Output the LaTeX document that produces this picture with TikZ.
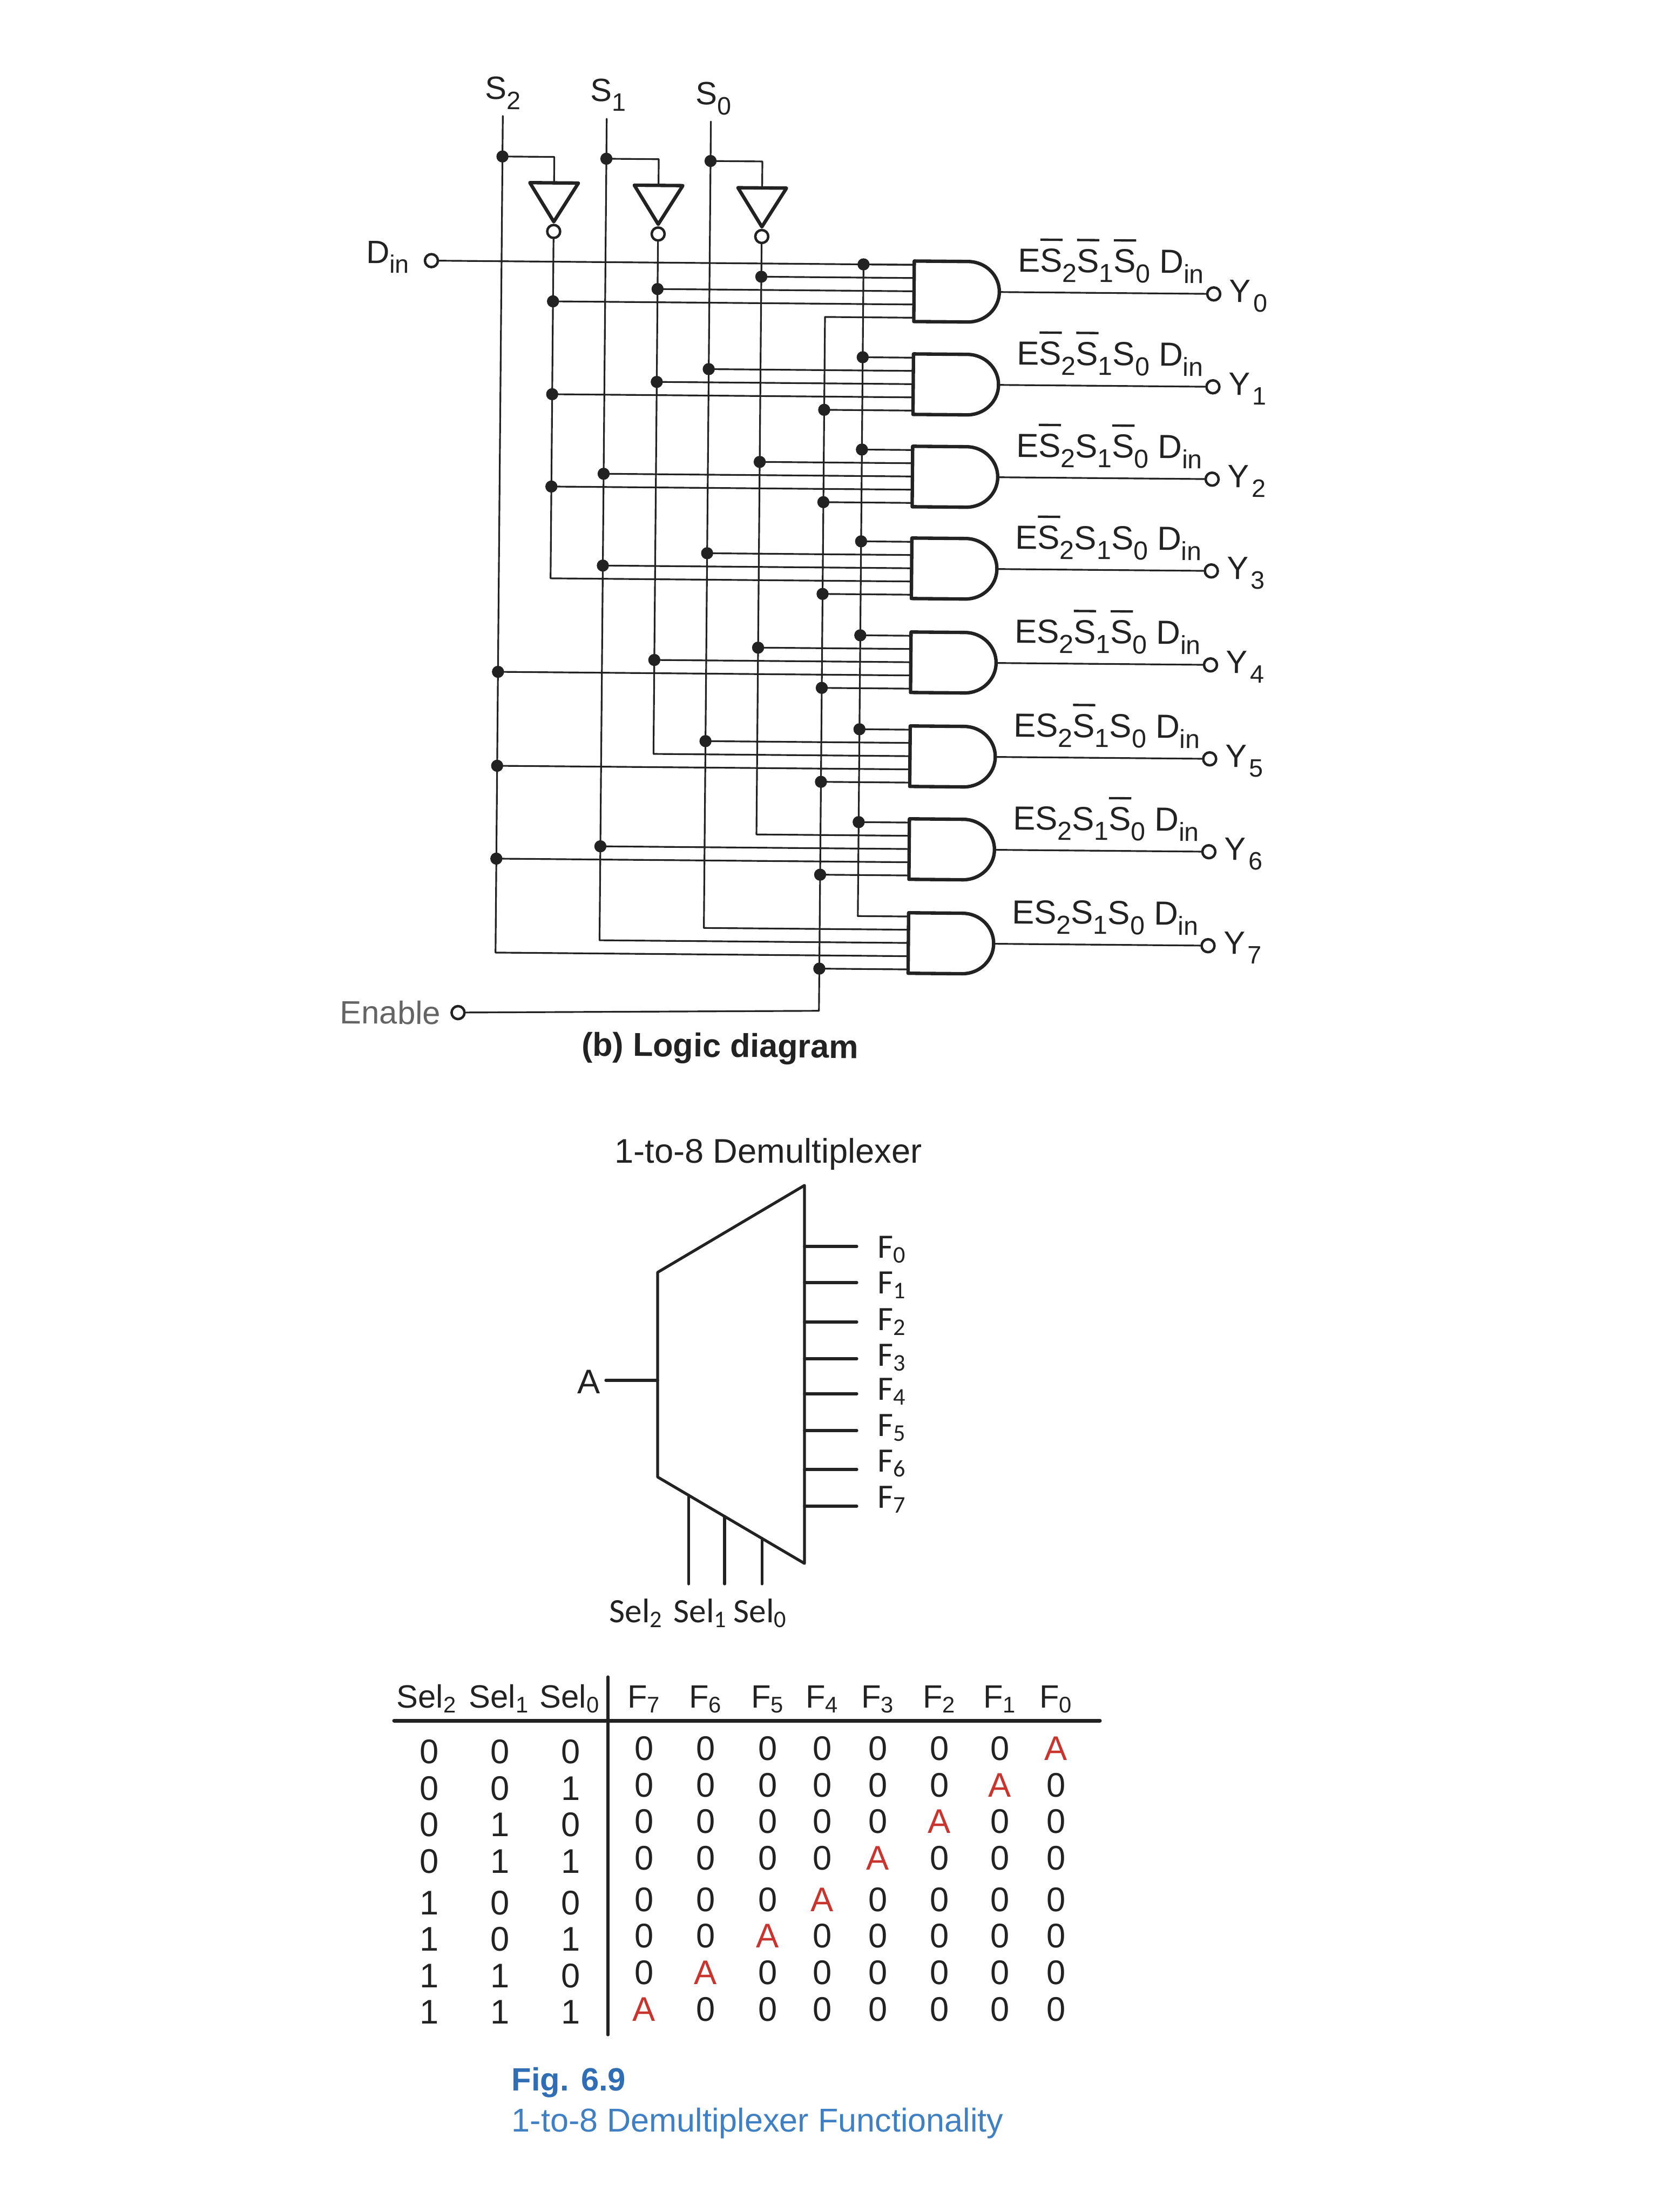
\documentclass[tikz,border=0pt]{standalone}
\usepackage{fontspec}
\setmainfont{Liberation Sans}
\newfontfamily\califont{Carlito}
\definecolor{ink}{HTML}{222222}
\definecolor{redA}{HTML}{C8352F}
\definecolor{blueA}{HTML}{2F6DB5}
\definecolor{blueB}{HTML}{3F7FC4}
\newcommand{\fsz}[1]{\fontsize{#1}{#1}\selectfont}
\newcommand{\bsub}[1]{\raisebox{-.3em}{\scalebox{.78}{#1}}}
\newcommand{\nS}{\rlap{\raisebox{.93em}{\rule{.667em}{.07em}}}S}
\tikzset{
	wire/.style={draw=ink, line width=.9pt},
	gate/.style={draw=ink, line width=1.8pt, line join=round},
	term/.style={circle, draw=ink, fill=white, line width=1.3pt, inner sep=0pt, minimum size=.24cm},
	lbl/.style={anchor=base west, inner sep=0pt, text=ink, font=\fsz{17}},
	block/.style={draw=ink, line width=1.5pt},
	bit/.style={inner sep=0pt, text=ink, font=\fsz{18}},
}
\begin{document}
\begin{tikzpicture}[line join=round, line cap=round]
	\useasboundingbox (0,0) rectangle (31.06,-40.96);
	% logic diagram, the scan sits slightly askew
	\begin{scope}[rotate around={-.5:(13,-10)}, transform shape]
		\foreach \g/\gy/\xa/\xb/\xc in {0/-5.36/\nS/\nS/\nS, 1/-7.08/\nS/\nS/S, 2/-8.79/\nS/S/\nS, 3/-10.49/\nS/S/S, 4/-12.23/S/\nS/\nS, 5/-13.97/S/\nS/S, 6/-15.69/S/S/\nS, 7/-17.43/S/S/S} {
			\coordinate (G\g) at (16.89,\gy);
			\coordinate (T\g) at (18.47,\gy);
			\draw[gate] ([yshift=.56cm]G\g) -- ++(1,0) arc(90:-90:.58 and .56) -- ++(-1,0) -- cycle;
			\foreach \k/\off in {1/.49,2/.245,3/0,4/-.245,5/-.49}
				\coordinate (G\g-\k) at ([yshift=\off cm]G\g);
			\node[term] (Y\g) at (22.44,\gy) {};
			\draw[wire] (T\g) -- (Y\g);
			\node[lbl, font=\fsz{17.6}] (L\g) at (18.80,\gy+.38) {E\xa\bsub{2}\xb\bsub{1}\xc\bsub{0} D\bsub{in}};
			\node[lbl] (R\g) at (22.72,\gy-.15) {Y\kern.08em\bsub{\g}};
		}
		\foreach \s/\i/\n/\x/\y/\nx/\dy/\ty/\lx/\ly in {S2/2/N2/9.245/-2.18/10.205/-2.93/-3.41/8.91/-1.875, S1/1/N1/11.17/-2.215/12.14/-2.955/-3.44/10.86/-1.89, S0/0/N0/13.10/-2.25/14.06/-2.98/-3.47/12.81/-1.94} {
			\coordinate (\s) at (\x,\y);
			\coordinate (J\s) at (\x,\dy);
			\coordinate (I\s) at (\nx,\ty);
			\draw[wire] (J\s) -| (I\s);
			\draw[gate] (\nx-.45,\ty) -- (\nx+.45,\ty) -- (\nx,\ty-.72) -- cycle;
			\node[term] (B\s) at (\nx,\ty-.90) {};
			\coordinate (\n) at (B\s.south);
			\draw[ink, fill=ink] (J\s) circle(.105);
			\node[lbl] (L\s) at (\lx,\ly) {S\bsub{\i}};
		}
		\coordinate (DI) at (15.95,-4.87);
		\coordinate (EN) at (15.245,-5.85);
		\coordinate (ENb) at (15.245,-18.70);
		% bus lines
		\foreach \bus/\e in {S2/7-4,S1/7-3,S0/7-2,N2/3-4,N1/5-3,N0/6-2,DI/7-1}
			\draw[wire] (\bus) -- (\bus |- G\e);
		% inputs that branch off with a dot
		\foreach \g/\k/\bus in {0/1/DI,0/2/N0,0/3/N1,0/4/N2,
			1/1/DI,1/2/S0,1/3/N1,1/4/N2,1/5/EN,
			2/1/DI,2/2/N0,2/3/S1,2/4/N2,2/5/EN,
			3/1/DI,3/2/S0,3/3/S1,3/5/EN,
			4/1/DI,4/2/N0,4/3/N1,4/4/S2,4/5/EN,
			5/1/DI,5/2/S0,5/4/S2,5/5/EN,
			6/1/DI,6/3/S1,6/4/S2,6/5/EN,
			7/5/EN} {
			\draw[wire] (\bus |- G\g-\k) -- (G\g-\k);
			\draw[ink, fill=ink] (\bus |- G\g-\k) circle(.105);
		}
		% inputs where a bus ends
		\foreach \g/\k/\bus in {0/5/EN,3/4/N2,5/3/N1,6/2/N0,7/1/DI,7/2/S0,7/3/S1,7/4/S2}
			\draw[wire] (\bus |- G\g-\k) -- (G\g-\k);
		\node[term] (Din) at (7.945,-4.87) {};
		\draw[wire] (Din) -- (G0-1);
		\node[lbl] (DinL) at (6.73,-4.93) {D\bsub{in}};
		\node[term] (Enable) at (8.56,-18.79) {};
		\draw[wire] (Enable) -- (ENb) -- (EN);
		\node[lbl, text=ink!70] (EnableL) at (6.37,-19.01) {Enable};
		\node[inner sep=0pt, anchor=base, text=ink, font=\fsz{17.4}\bfseries] (cap) at (13.42,-19.57) {(b) Logic diagram};
	\end{scope}
	% block symbol
	\node[anchor=base, inner sep=0pt, text=ink, font=\fsz{18}] (title) at (14.23,-21.53) {1-to-8 Demultiplexer};
	\coordinate (TL) at (12.18,-23.56);
	\coordinate (TR) at (14.90,-21.95);
	\coordinate (BR) at (14.90,-28.95);
	\coordinate (BL) at (12.18,-27.35);
	\draw[block] (TL) -- (TR) -- (BR) -- (BL) -- cycle;
	\coordinate (Ain) at (11.22,-25.56);
	\draw[block] (Ain) -- (TL |- Ain);
	\node[anchor=base west, inner sep=0pt, text=ink, font=\fsz{18}] (A) at (10.69,-25.80) {A};
	\foreach \i/\ly/\ty in {0/-23.08/-23.29,1/-23.75/-23.95,2/-24.48/-24.63,3/-25.16/-25.29,4/-25.81/-25.92,5/-26.49/-26.59,6/-27.21/-27.25,7/-27.89/-27.92} {
		\coordinate (F\i) at (15.87,\ly);
		\draw[block] (TR |- F\i) -- (F\i);
		\node[anchor=base west, inner sep=0pt, text=ink, font=\califont\fsz{18}] (FL\i) at (16.25,\ty) {F\textsubscript{\i}};
	}
	\path (BL) -- (BR) coordinate[pos=.211] (sel2) coordinate[pos=.456] (sel1) coordinate[pos=.71] (sel0);
	\coordinate (selb) at (13,-29.33);
	\foreach \n in {sel2,sel1,sel0}
		\draw[block] (\n) -- (\n |- selb);
	\foreach \n/\i/\x in {SL2/2/11.28,SL1/1/12.47,SL0/0/13.58}
		\node[anchor=base west, inner sep=0pt, text=ink, font=\califont\fsz{18}] (\n) at (\x,-30.04) {Sel\textsubscript{\i}};
	% function table
	\coordinate (hl) at (7.30,-31.86);
	\coordinate (hr) at (20.37,-31.86);
	\coordinate (vt) at (11.26,-31.05);
	\coordinate (vb) at (11.26,-37.68);
	\draw[ink, line width=2pt] (hl) -- (hr);
	\draw[ink, line width=1.5pt] (vt) -- (vb);
	\foreach \n/\i/\x in {s2/2/7.34,s1/1/8.68,s0/0/9.99}
		\node[lbl] (\n) at (\x,-31.62) {Sel\textsubscript{\i}};
	\foreach \c/\x in {7/11.93,6/13.07,5/14.22,4/15.23,3/16.26,2/17.40,1/18.52,0/19.56}
		\node[lbl, anchor=base] (H\c) at (\x,-31.62) {F\textsubscript{\c}};
	\foreach \row/\yl/\yr/\xa/\xb/\xc in {0/32.44/32.38/0/0/0,1/33.12/33.06/0/0/1,2/33.79/33.73/0/1/0,3/34.47/34.41/0/1/1,4/35.24/35.18/1/0/0,5/35.91/35.85/1/0/1,6/36.59/36.53/1/1/0,7/37.26/37.21/1/1/1} {
		\node[bit] (a\row) at (7.95,-\yl) {\xa};
		\node[bit] (b\row) at (9.26,-\yl) {\xb};
		\node[bit] (c\row) at (10.57,-\yl) {\xc};
		\foreach \c/\x in {7/11.93,6/13.07,5/14.22,4/15.23,3/16.26,2/17.40,1/18.52,0/19.56} {
			\ifnum\c=\row
				\node[bit, text=redA] (v\row\c) at (\x,-\yr) {A};
			\else
				\node[bit] (v\row\c) at (\x,-\yr) {0};
			\fi
		}
	}
	\node[anchor=base west, inner sep=0pt, text=blueA, font=\fsz{17}\bfseries] (fig) at (9.47,-38.71) {Fig. 6.9};
	\node[anchor=base west, inner sep=0pt, text=blueB, font=\fsz{17.4}] (figt) at (9.47,-39.47) {1-to-8 Demultiplexer Functionality};
\end{tikzpicture}
\end{document}
